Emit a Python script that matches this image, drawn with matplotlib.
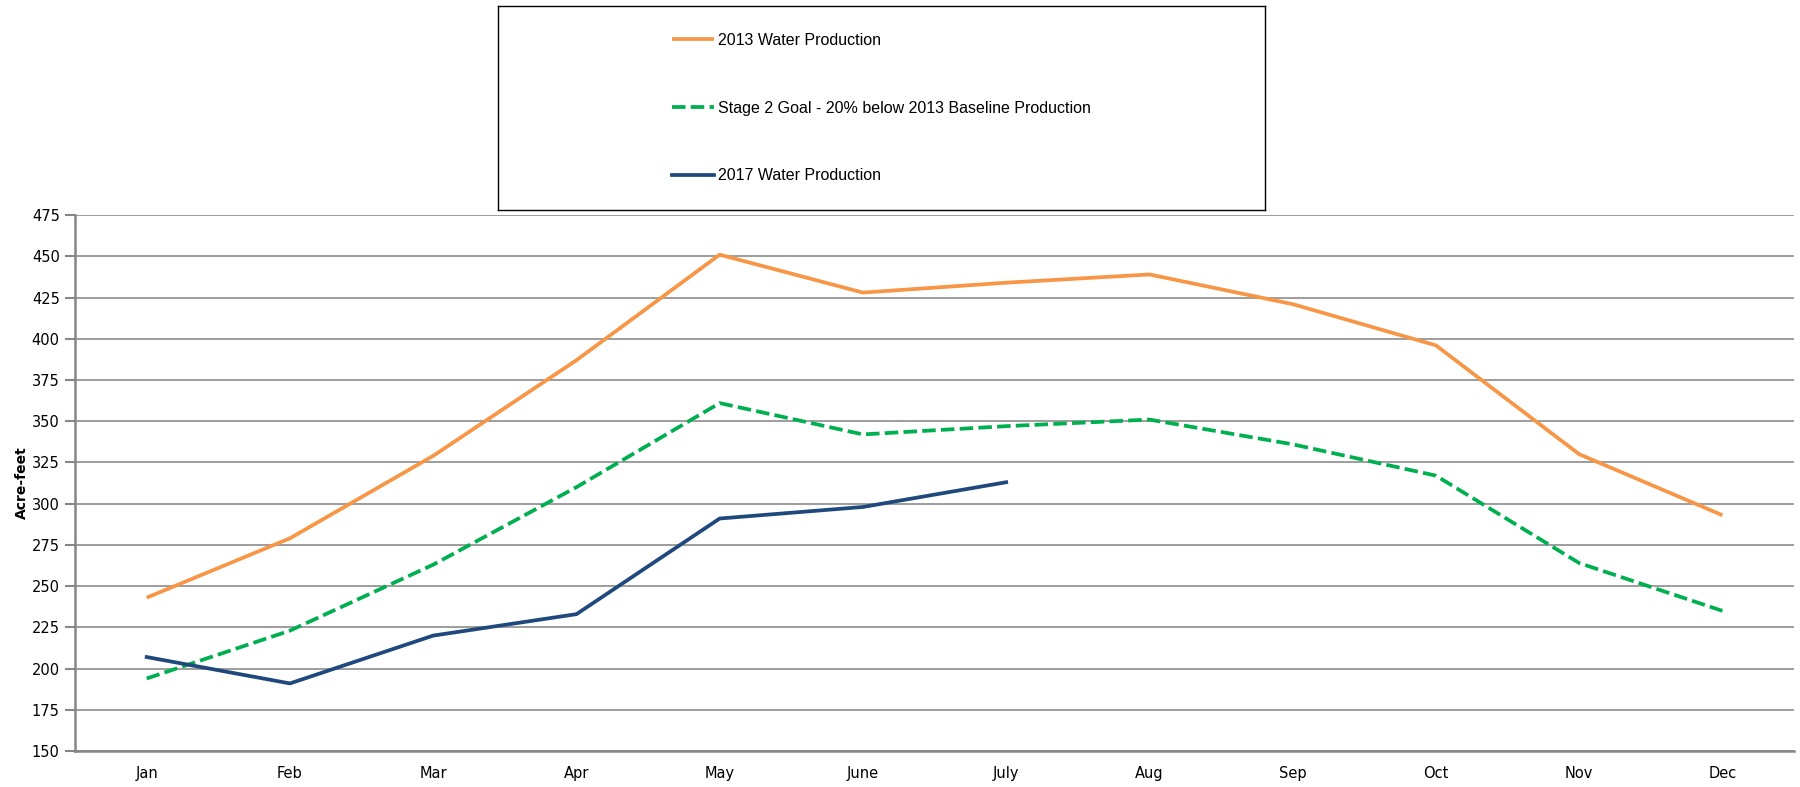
import matplotlib
matplotlib.use('Agg')
import matplotlib.pyplot as plt

# data
months = ['Jan', 'Feb', 'Mar', 'Apr', 'May', 'June', 'July', 'Aug', 'Sep', 'Oct', 'Nov', 'Dec']
prod_2013 = [243, 279, 329, 387, 451, 428, 434, 439, 421, 396, 330, 293]
stage2_goal = [194, 223, 263, 310, 361, 342, 347, 351, 336, 317, 264, 235]
prod_2017 = [207, 191, 220, 233, 291, 298, 313]
yticks = list(range(150, 476, 25))

plt.rcParams['font.family'] = ['DejaVu Sans']

fig = plt.figure(figsize=(18, 7.87), dpi=100)
ax = fig.add_axes([0.0417, 0.0457, 0.955, 0.681])

x = list(range(len(months)))
ax.plot(x, prod_2013, color='#F79646', lw=2.7, label='2013 Water Production', solid_capstyle='butt')
ax.plot(x, stage2_goal, color='#00B050', lw=2.7, dashes=(3.6, 1.4),
        label='Stage 2 Goal - 20% below 2013 Baseline Production')
ax.plot(x[:len(prod_2017)], prod_2017, color='#1F497D', lw=2.7, label='2017 Water Production')

ax.set_xlim(-0.5, 11.5)
ax.set_ylim(150, 475)
ax.set_yticks(yticks)
ax.set_xticks(x)
ax.set_xticklabels(months)
ax.tick_params(axis='both', labelsize=10.5, colors='black', length=0, pad=11)
ax.tick_params(axis='y', length=7, color='#868686', width=1.5, direction='out', pad=4)
ax.grid(axis='y', color='#8c8c8c', lw=1.2)
ax.set_axisbelow(True)
for s in ['top', 'right']:
    ax.spines[s].set_visible(False)
for s in ['left', 'bottom']:
    ax.spines[s].set_color('#868686')
    ax.spines[s].set_linewidth(1.8)
ax.set_ylabel('Acre-feet', fontsize=10, fontweight='bold')
ax.yaxis.set_label_coords(-0.027, 0.5)

# legend in its own framed box above the plot
lax = fig.add_axes([0.2767, 0.733, 0.426, 0.259])
lax.set_xticks([])
lax.set_yticks([])
for s in lax.spines.values():
    s.set_color('black')
    s.set_linewidth(1.0)
handles, labels = ax.get_legend_handles_labels()
leg = lax.legend(handles, labels, loc='center', frameon=False, handlelength=2.6,
                 handletextpad=0.25, labelspacing=3.3,
                 prop={'family': 'Liberation Sans', 'size': 11.5})

fig.savefig('out.png', dpi=100)
